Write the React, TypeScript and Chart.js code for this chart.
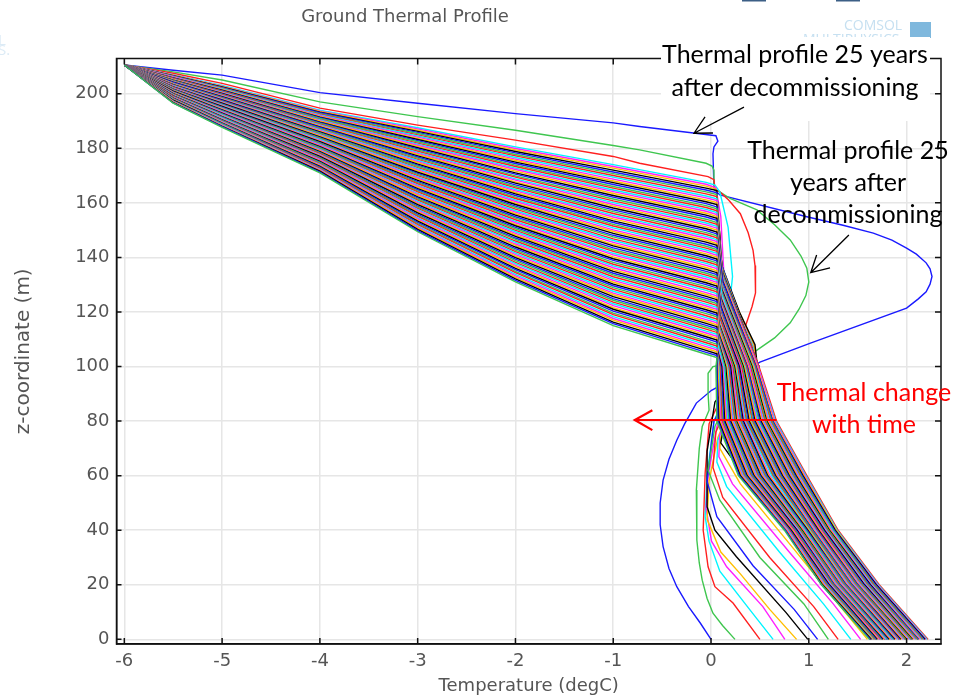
import React, { useEffect, useRef } from "react";
import { Chart, registerables } from "chart.js";

Chart.register(...registerables);

const xTickValues = [-6, -5, -4, -3, -2, -1, 0, 1, 2];
const yTickValues = [0, 20, 40, 60, 80, 100, 120, 140, 160, 180, 200];
const palette = ["#1a1aff", "#3fc64f", "#ff1f1f", "#00f5ff", "#ff1fff", "#ffbf00", "#000000"];

// The three outermost profiles, as temperature, depth pairs
const profile0 = [-6,210.5,-5.5,208.6,-5,206.8,-4,200.4,-3,196.5,-2,192.7,-1,189.3,-0.73,188,-0.18,185.6,0.05,184.6,0.07,182.6,0.03,180.5,0.02,178,0.03,165,0.09,162.9,0.98,154.9,1.35,151.8,1.66,148.9,1.85,146.3,2,143.4,2.1,141.2,2.2,138,2.24,135.8,2.26,133,2.24,130.2,2.2,127.4,2.12,124.8,2,121.4,1.01,108.5,0.5,101.6,0.2,95,0.005,91.3,-0.15,86.6,-0.27,79,-0.35,73,-0.43,66,-0.49,58.4,-0.52,50,-0.52,42,-0.49,34,-0.43,26,-0.35,19.3,-0.23,12,-0.11,6,0,0];
const profile1 = [-6,210.5,-5.5,208,-5,205,-4,197,-3,191.6,-2,186.6,-1,181,-0.73,179.4,-0.05,174.5,0.01,173.5,0.03,172,0.03,165,0.09,164,0.2,161.5,0.47,157.4,0.65,152,0.81,146.4,0.92,140.5,0.98,136,1,131,0.97,126,0.9,121,0.81,116,0.65,110.5,0.47,106,0.3,102,0.02,100,-0.03,97.5,-0.03,90,-0.02,84,-0.09,78,-0.12,70,-0.15,54.7,-0.145,36.4,-0.12,28,-0.09,21.7,-0.04,15,0.02,9.6,0.12,5,0.245,0];
const profile2 = [-6,210.5,-5.5,207.5,-5,203.8,-4,194.7,-3,188.5,-2,183,-1,177,-0.73,174.5,-0.03,169.6,0.03,168.5,0.04,165,0.09,164,0.18,161,0.3,156,0.38,149,0.43,142.6,0.45,137,0.46,131.7,0.45,127,0.42,122,0.35,114.6,0.3,105,0.15,92,-0.02,79,-0.06,61,-0.08,40,-0.03,26.6,0.04,19.3,0.225,13.3,0.5,0];

// Upper arm of profiles 3 to 92: depth at each temperature of armTemps
const surfacePoint = [-6, 210.5];
const armTemps = [-5.5, -5, -4, -3, -2, -1, -0.05];
const armDepths = [
[207,203,194,187.5,180.5,174,167.5],[206.9,202.8,193.7,187.1,179.9,173.3,166.8],[206.8,202.7,193.5,186.6,179.4,172.7,166.1],[206.6,202.5,193.2,186.2,178.8,172,165.4],[206.5,202.3,193,185.8,178.3,171.3,164.7],[206.4,202.1,192.7,185.4,177.7,170.7,164],[206.3,202,192.5,184.9,177.2,170,163.3],[206.2,201.8,192.2,184.5,176.6,169.4,162.5],[206.1,201.6,191.9,184.1,176,168.7,161.8],[205.9,201.5,191.7,183.6,175.5,168,161.1],[205.8,201.3,191.4,183.2,174.9,167.4,160.4],
[205.7,201.1,191.2,182.8,174.4,166.7,159.7],[205.6,200.9,190.9,182.4,173.8,166,159],[205.5,200.8,190.6,181.9,173.3,165.4,158.3],[205.3,200.6,190.4,181.5,172.7,164.7,157.6],[205.2,200.4,190.1,181.1,172.2,164.1,156.9],[205.1,200.2,189.9,180.7,171.6,163.4,156.2],[205,200.1,189.6,180.2,171,162.7,155.5],[204.9,199.9,189.4,179.8,170.5,162.1,154.8],[204.8,199.7,189.1,179.4,169.9,161.4,154],[204.6,199.6,188.8,178.9,169.4,160.7,153.3],
[204.5,199.4,188.6,178.5,168.8,160.1,152.6],[204.4,199.2,188.3,178.1,168.3,159.4,151.9],[204.3,199,188.1,177.7,167.7,158.8,151.2],[204.2,198.9,187.8,177.2,167.2,158.1,150.5],[204.1,198.7,187.6,176.8,166.6,157.4,149.8],[203.9,198.5,187.3,176.4,166,156.8,149.1],[203.8,198.4,187,175.9,165.5,156.1,148.4],[203.7,198.2,186.8,175.5,164.9,155.4,147.7],[203.6,198,186.5,175.1,164.4,154.8,147],[203.5,197.8,186.3,174.7,163.8,154.1,146.3],
[203.3,197.7,186,174.2,163.3,153.4,145.6],[203.2,197.5,185.7,173.8,162.7,152.8,144.8],[203.1,197.3,185.5,173.4,162.1,152.1,144.1],[203,197.2,185.2,172.9,161.6,151.5,143.4],[202.9,197,185,172.5,161,150.8,142.7],[202.8,196.8,184.7,172.1,160.5,150.1,142],[202.6,196.6,184.5,171.7,159.9,149.5,141.3],[202.5,196.5,184.2,171.2,159.4,148.8,140.6],[202.4,196.3,183.9,170.8,158.8,148.1,139.9],[202.3,196.1,183.7,170.4,158.3,147.5,139.2],
[202.2,195.9,183.4,170,157.7,146.8,138.5],[202,195.8,183.2,169.5,157.1,146.2,137.8],[201.9,195.6,182.9,169.1,156.6,145.5,137.1],[201.8,195.4,182.6,168.7,156,144.8,136.3],[201.7,195.3,182.4,168.2,155.5,144.2,135.6],[201.6,195.1,182.1,167.8,154.9,143.5,134.9],[201.5,194.9,181.9,167.4,154.4,142.8,134.2],[201.3,194.7,181.6,167,153.8,142.2,133.5],[201.2,194.6,181.4,166.5,153.2,141.5,132.8],[201.1,194.4,181.1,166.1,152.7,140.9,132.1],
[201,194.2,180.8,165.7,152.1,140.2,131.4],[200.9,194.1,180.6,165.2,151.6,139.5,130.7],[200.7,193.9,180.3,164.8,151,138.9,130],[200.6,193.7,180.1,164.4,150.5,138.2,129.3],[200.5,193.5,179.8,164,149.9,137.5,128.6],[200.4,193.4,179.6,163.5,149.4,136.9,127.9],[200.3,193.2,179.3,163.1,148.8,136.2,127.1],[200.2,193,179,162.7,148.2,135.5,126.4],[200,192.9,178.8,162.2,147.7,134.9,125.7],[199.9,192.7,178.5,161.8,147.1,134.2,125],
[199.8,192.5,178.3,161.4,146.6,133.6,124.3],[199.7,192.3,178,161,146,132.9,123.6],[199.6,192.2,177.7,160.5,145.5,132.2,122.9],[199.4,192,177.5,160.1,144.9,131.6,122.2],[199.3,191.8,177.2,159.7,144.4,130.9,121.5],[199.2,191.6,177,159.3,143.8,130.2,120.8],[199.1,191.5,176.7,158.8,143.2,129.6,120.1],[199,191.3,176.5,158.4,142.7,128.9,119.4],[198.9,191.1,176.2,158,142.1,128.3,118.6],[198.7,191,175.9,157.5,141.6,127.6,117.9],
[198.6,190.8,175.7,157.1,141,126.9,117.2],[198.5,190.6,175.4,156.7,140.5,126.3,116.5],[198.4,190.4,175.2,156.3,139.9,125.6,115.8],[198.3,190.3,174.9,155.8,139.4,124.9,115.1],[198.2,190.1,174.7,155.4,138.8,124.3,114.4],[198,189.9,174.4,155,138.2,123.6,113.7],[197.9,189.8,174.1,154.5,137.7,123,113],[197.8,189.6,173.9,154.1,137.1,122.3,112.3],[197.7,189.4,173.6,153.7,136.6,121.6,111.6],[197.6,189.2,173.4,153.3,136,121,110.9],
[197.4,189.1,173.1,152.8,135.5,120.3,110.2],[197.3,188.9,172.8,152.4,134.9,119.6,109.4],[197.2,188.7,172.6,152,134.4,119,108.7],[197.1,188.6,172.3,151.5,133.8,118.3,108],[197,188.4,172.1,151.1,133.2,117.6,107.3],[196.9,188.2,171.8,150.7,132.7,117,106.6],[196.7,188,171.6,150.3,132.1,116.3,105.9],[196.6,187.9,171.3,149.8,131.6,115.7,105.2],[196.5,187.7,171,149.4,131,115,104.5],
];

// Lower part of profiles 3 to 13: temperature, depth pairs below the arm
const fanTails = [
[0.04,166.5,0.09,164,0.175,151,0.22,133,0.195,124.4,0.28,115,0.3,105,0.15,90,0.03,80,-0.04,60,-0.06,45,-0.02,36,0.09,25,0.4,10.7,0.635,0],
[0.05,165.5,0.1,155,0.13,135,0.2,124,0.3,113,0.36,102,0.2,88,0.06,78,-0.03,60,-0.05,48,0.005,36,0.16,26.6,0.53,12,0.755,0],
[0.05,165,0.08,155,0.1,138,0.2,122,0.34,110,0.38,100,0.2,85,0.07,74,-0.02,58,-0.04,44,0.1,32,0.3,24,0.6,11,0.875,0],
[0.06,164.5,0.08,150,0.1,135,0.22,121,0.38,108,0.42,98,0.15,92,0.04,87,-0.04,69,-0.04,48.6,0.04,40,0.26,30.3,0.77,9.7,0.99,0],
[0.06,163.7,0.08,150,0.1,137,0.24,121,0.4,108,0.44,98,0.18,90,0.03,80,-0.04,58,0.06,45,0.43,27,0.85,11,1.09,0],
[0.06,163,0.08,150,0.1,137,0.25,121,0.41,108,0.45,98,0.2,90,0.04,78,-0.03,62,0.09,51,0.5,30,0.95,13,1.2,0],
[0.06,162.3,0.08,150,0.1,137,0.26,121,0.42,108,0.46,98,0.2,88,0.05,76,0.02,63,0.12,52,0.6,30,1.05,12,1.3,0],
[0.06,161.5,0.09,148,0.1,137,0.27,120,0.43,108,0.47,98,0.22,87,0.07,73,0.06,65,0.16,56,0.7,32,1.15,13,1.43,0],
[0.06,160.8,0.09,148,0.1,137,0.28,120,0.44,108,0.47,98,0.22,86,0.09,75,0.08,67,0.22,57,0.8,32,1.25,13,1.53,0],
[0.06,160.1,0.09,148,0.1,137,0.29,120,0.44,108,0.48,98,0.25,86,0.1,74,0.09,70,0.3,57,0.85,33,1.3,13,1.6,0],
[0.06,159.4,0.09,148,0.11,137,0.29,120,0.45,108,0.48,98,0.25,86,0.12,76,0.1,72,0.38,58,0.9,34,1.35,13,1.63,0],
];

// Lower part of profiles 14 to 92: knee temperature, knee depth, then temperature at each of tailDepths
const kinkTemp = 0.06;
const tailDepths = [100, 80, 60, 40, 20, 0];
const bundleTails = [
[0.11,137,0.48,0.07,0.3,0.78,1.17,1.65],[0.11,136.6,0.48,0.08,0.31,0.8,1.19,1.67],[0.11,136.1,0.48,0.09,0.33,0.83,1.21,1.69],[0.11,135.7,0.48,0.1,0.35,0.85,1.24,1.71],[0.11,135.3,0.49,0.11,0.37,0.87,1.26,1.73],[0.12,134.8,0.49,0.13,0.39,0.9,1.29,1.75],[0.12,134.4,0.49,0.15,0.42,0.93,1.32,1.78],[0.12,134,0.49,0.18,0.45,0.96,1.35,1.8],[0.12,133.5,0.49,0.22,0.48,1,1.39,1.83],
[0.12,133,0.49,0.67,0.98,1.3,1.72,2.22],[0.12,132.6,0.48,0.66,0.97,1.29,1.71,2.21],[0.12,132.2,0.48,0.65,0.96,1.28,1.7,2.2],[0.12,131.7,0.47,0.64,0.95,1.28,1.69,2.19],[0.12,131.3,0.46,0.63,0.94,1.27,1.69,2.19],[0.12,130.9,0.46,0.63,0.93,1.26,1.68,2.18],[0.11,130.4,0.45,0.62,0.92,1.25,1.67,2.17],[0.11,130,0.45,0.61,0.91,1.24,1.66,2.16],[0.11,129.6,0.44,0.6,0.9,1.24,1.65,2.15],[0.11,129.1,0.43,0.59,0.89,1.23,1.64,2.14],
[0.11,128.7,0.43,0.58,0.88,1.22,1.63,2.13],[0.11,128.3,0.42,0.57,0.87,1.21,1.63,2.12],[0.11,127.8,0.41,0.56,0.86,1.2,1.62,2.12],[0.11,127.3,0.41,0.56,0.85,1.2,1.61,2.11],[0.11,126.9,0.4,0.55,0.84,1.19,1.6,2.1],[0.11,126.5,0.39,0.54,0.83,1.18,1.59,2.09],[0.1,126,0.39,0.53,0.82,1.17,1.58,2.08],[0.1,125.6,0.38,0.52,0.81,1.16,1.57,2.07],[0.1,125.2,0.37,0.51,0.8,1.16,1.57,2.06],[0.1,124.7,0.37,0.5,0.79,1.15,1.56,2.05],
[0.1,124.3,0.36,0.49,0.78,1.14,1.55,2.05],[0.1,123.9,0.36,0.48,0.77,1.13,1.54,2.04],[0.1,123.4,0.35,0.48,0.76,1.12,1.53,2.03],[0.1,123,0.34,0.47,0.75,1.12,1.52,2.02],[0.1,122.5,0.34,0.46,0.74,1.11,1.51,2.01],[0.1,122.1,0.33,0.45,0.73,1.1,1.5,2],[0.1,121.6,0.32,0.44,0.72,1.09,1.5,1.99],[0.09,121.2,0.32,0.43,0.71,1.08,1.49,1.99],[0.09,120.8,0.31,0.42,0.7,1.08,1.48,1.98],[0.09,120.3,0.3,0.41,0.69,1.07,1.47,1.97],
[0.09,119.9,0.3,0.4,0.68,1.06,1.46,1.96],[0.09,119.5,0.29,0.4,0.67,1.05,1.45,1.95],[0.09,119,0.29,0.39,0.66,1.04,1.44,1.94],[0.09,118.6,0.28,0.38,0.65,1.04,1.44,1.93],[0.09,118.2,0.27,0.37,0.64,1.03,1.43,1.92],[0.09,117.7,0.27,0.36,0.63,1.02,1.42,1.92],[0.08,117.3,0.26,0.35,0.62,1.01,1.41,1.91],[0.08,116.8,0.25,0.34,0.6,1,1.4,1.9],[0.08,116.4,0.25,0.33,0.59,1,1.39,1.89],[0.08,115.9,0.24,0.33,0.58,0.99,1.38,1.88],
[0.08,115.5,0.23,0.32,0.57,0.98,1.38,1.87],[0.08,115.1,0.23,0.31,0.56,0.97,1.37,1.86],[0.08,114.6,0.22,0.3,0.55,0.96,1.36,1.85],[0.08,114.2,0.21,0.29,0.54,0.96,1.35,1.85],[0.08,113.8,0.21,0.28,0.53,0.95,1.34,1.84],[0.08,113.3,0.2,0.27,0.52,0.94,1.33,1.83],[0.07,112.9,0.2,0.26,0.51,0.93,1.32,1.82],[0.07,112.5,0.19,0.25,0.5,0.92,1.32,1.81],[0.07,112,0.18,0.25,0.49,0.92,1.31,1.8],[0.07,111.5,0.18,0.24,0.48,0.91,1.3,1.79],
[0.07,111.1,0.17,0.23,0.47,0.9,1.29,1.79],[0.07,110.7,0.16,0.22,0.46,0.89,1.28,1.78],[0.07,110.2,0.16,0.21,0.45,0.88,1.27,1.77],[0.07,109.8,0.15,0.2,0.44,0.88,1.26,1.76],[0.07,109.4,0.14,0.19,0.43,0.87,1.26,1.75],[0.07,108.9,0.14,0.18,0.42,0.86,1.25,1.74],[0.07,108.5,0.13,0.17,0.41,0.85,1.24,1.73],[0.07,108.1,0.13,0.17,0.4,0.84,1.23,1.72],[0.06,107.6,0.12,0.16,0.39,0.84,1.22,1.72],[0.06,107.2,0.11,0.15,0.38,0.83,1.21,1.71],
[0.06,106.8,0.11,0.14,0.37,0.82,1.21,1.7],[0.06,106.3,0.1,0.13,0.36,0.81,1.2,1.69],[0.06,105.8,0.09,0.12,0.35,0.8,1.19,1.68],[0.06,105.4,0.09,0.11,0.34,0.8,1.18,1.67],[0.06,105,0.08,0.1,0.33,0.79,1.17,1.66],[0.06,104.5,0.07,0.1,0.32,0.78,1.16,1.65],[0.06,104.1,0.07,0.09,0.31,0.77,1.15,1.65],[0.06,103.7,0.06,0.08,0.3,0.76,1.14,1.64],[0.06,103.2,0.06,0.07,0.29,0.76,1.13,1.63],[0.06,102.8,0.05,0.06,0.28,0.75,1.13,1.62],
];

// Annotation arrows in axis units: tail, tip, wing, wing
const blackArrows = [
  [0.337, 195.1, -0.174, 185.5, -0.061, 191.5, 0.02, 185.6],
  [1.41, 148.2, 1.02, 134.4, 1.08, 140.9, 1.217, 136.2],
];
const redArrow = [0.67, 80.4, -0.78, 80.4, -0.6, 84, -0.6, 76.7];

const chartTitle = "Ground Thermal Profile";
const xAxisTitle = "Temperature (degC)";
const yAxisTitle = "z-coordinate (m)";
const note1 = ["Thermal profile 25 years", "after decommissioning"];
const note2 = ["Thermal profile 25", "years after", "decommissioning"];
const note3 = ["Thermal change", "with time"];

function pairs(flat: number[]) {
  const out: { x: number; y: number }[] = [];
  for (let i = 0; i < flat.length; i += 2) out.push({ x: flat[i], y: flat[i + 1] });
  return out;
}

function buildProfiles() {
  const all = [pairs(profile0), pairs(profile1), pairs(profile2)];
  armDepths.forEach((row, r) => {
    const pts = [{ x: surfacePoint[0], y: surfacePoint[1] }];
    row.forEach((z, i) => pts.push({ x: armTemps[i], y: z }));
    if (r < fanTails.length) {
      pts.push(...pairs(fanTails[r]));
    } else {
      const t = bundleTails[r - fanTails.length];
      pts.push({ x: kinkTemp, y: row[row.length - 1] - 1.2 });
      pts.push({ x: t[0], y: t[1] });
      tailDepths.forEach((z, j) => pts.push({ x: t[j + 2], y: z }));
    }
    all.push(pts);
  });
  return all;
}

const overlay = {
  id: "overlay",
  afterDatasetsDraw(chart: any) {
    const { ctx, chartArea: a, scales } = chart;
    const X = scales.x, Y = scales.y;
    ctx.save();
    // frame and inward ticks
    ctx.strokeStyle = "#111";
    ctx.lineWidth = 1.5;
    ctx.strokeRect(a.left, a.top, a.right - a.left, a.bottom - a.top);
    ctx.beginPath();
    xTickValues.forEach((v) => {
      const p = X.getPixelForValue(v);
      ctx.moveTo(p, a.bottom); ctx.lineTo(p, a.bottom - 6);
      ctx.moveTo(p, a.top); ctx.lineTo(p, a.top + 6);
    });
    yTickValues.forEach((v) => {
      const p = Y.getPixelForValue(v);
      ctx.moveTo(a.left, p); ctx.lineTo(a.left + 5, p);
      ctx.moveTo(a.right, p); ctx.lineTo(a.right - 6, p);
    });
    ctx.stroke();

    // faint logo watermarks
    ctx.fillStyle = "#c6e0f1";
    ctx.textAlign = "left";
    ctx.textBaseline = "middle";
    ctx.font = "14px 'Open Sans'";
    ctx.fillText("COMSOL", 844, 26);
    ctx.fillText("MULTIPHYSICS", 803, 40);
    ctx.fillStyle = "#7fb8dd";
    ctx.fillRect(910, 22, 21, 16);
    ctx.fillStyle = "#dcebf6";
    ctx.font = "15px 'Open Sans'";
    ctx.fillText("L", -2, 41);
    ctx.fillText("S.", -2, 51);
    // cropped logo at the top edge
    ctx.fillStyle = "#3c5f86";
    ctx.fillRect(742, 0, 24, 1.5);
    ctx.fillRect(836, 0, 24, 1.5);

    // white label box of the first note
    ctx.fillStyle = "#ffffff";
    ctx.fillRect(661, 37, 269, 84);

    // notes
    ctx.textAlign = "center";
    ctx.font = "25px Lato";
    ctx.fillStyle = "#000";
    note1.forEach((t, i) => ctx.fillText(t, 795, 55 + i * 33));
    note2.forEach((t, i) => ctx.fillText(t, 848, 151 + i * 32));
    ctx.fillStyle = "#ff0000";
    note3.forEach((t, i) => ctx.fillText(t, 864, 393 + i * 32));

    // chart title
    ctx.fillStyle = "#555";
    ctx.font = "18px 'DejaVu Sans'";
    ctx.fillText(chartTitle, 405, 17);

    // arrows
    const arrow = (v: number[], color: string, w: number) => {
      const px = (i: number) => X.getPixelForValue(v[i]);
      const py = (i: number) => Y.getPixelForValue(v[i + 1]);
      ctx.strokeStyle = color;
      ctx.lineWidth = w;
      ctx.beginPath();
      ctx.moveTo(px(0), py(0)); ctx.lineTo(px(2), py(2));
      ctx.moveTo(px(4), py(4)); ctx.lineTo(px(2), py(2)); ctx.lineTo(px(6), py(6));
      ctx.stroke();
    };
    blackArrows.forEach((v) => arrow(v, "#000", 1.3));
    arrow(redArrow, "#ff0000", 2.2);
    ctx.restore();
  },
};

export default function App() {
  const ref = useRef<HTMLCanvasElement>(null);
  useEffect(() => {
    const profiles = buildProfiles();
    const n = profiles.length;
    const chart = new Chart(ref.current as HTMLCanvasElement, {
      type: "scatter",
      data: {
        datasets: profiles.map((pts, k) => ({
          label: `Profile ${k + 1}`,
          data: pts,
          showLine: true,
          pointRadius: 0,
          borderWidth: 1.4,
          borderColor: palette[k % palette.length],
          backgroundColor: palette[k % palette.length],
          tension: 0,
          order: n - k,
        })),
      },
      options: {
        animation: false,
        responsive: false,
        layout: { padding: { top: 58.5, right: 23, left: 0, bottom: 0 } },
        plugins: { legend: { display: false }, tooltip: { enabled: false } },
        scales: {
          x: {
            type: "linear",
            min: -6.08,
            max: 2.352,
            afterFit: (s: any) => { s.height = 56; },
            afterBuildTicks: (s: any) => { s.ticks = xTickValues.map((value) => ({ value })); },
            grid: { color: "#e6e6e6", lineWidth: 1.5, drawTicks: false },
            border: { display: true, color: "#111", width: 1.5 },
            ticks: { color: "#555", font: { family: "'DejaVu Sans'", size: 18 }, padding: 7, maxRotation: 0, autoSkip: false },
            title: { display: true, text: xAxisTitle, color: "#555", font: { family: "'DejaVu Sans'", size: 18 }, padding: { top: 0, bottom: 3 } },
          },
          y: {
            type: "linear",
            min: -1.7,
            max: 212.9,
            afterFit: (s: any) => { s.width = 116.5; },
            afterBuildTicks: (s: any) => { s.ticks = yTickValues.map((value) => ({ value })); },
            grid: { color: "#e6e6e6", lineWidth: 1.5, drawTicks: false },
            border: { display: true, color: "#111", width: 1.5 },
            ticks: { color: "#555", font: { family: "'DejaVu Sans'", size: 18 }, padding: 7, autoSkip: false },
            title: { display: true, text: yAxisTitle, color: "#555", font: { family: "'DejaVu Sans'", size: 20 }, padding: { top: 12, bottom: 0 } },
          },
        },
      },
      plugins: [overlay],
    } as any);
    return () => chart.destroy();
  }, []);
  return (
    <div style={{ position: "fixed", left: 0, top: 0, width: 964, height: 700, background: "#fff" }}>
      <canvas ref={ref} width={964} height={700} style={{ display: "block", width: 964, height: 700 }} />
    </div>
  );
}
